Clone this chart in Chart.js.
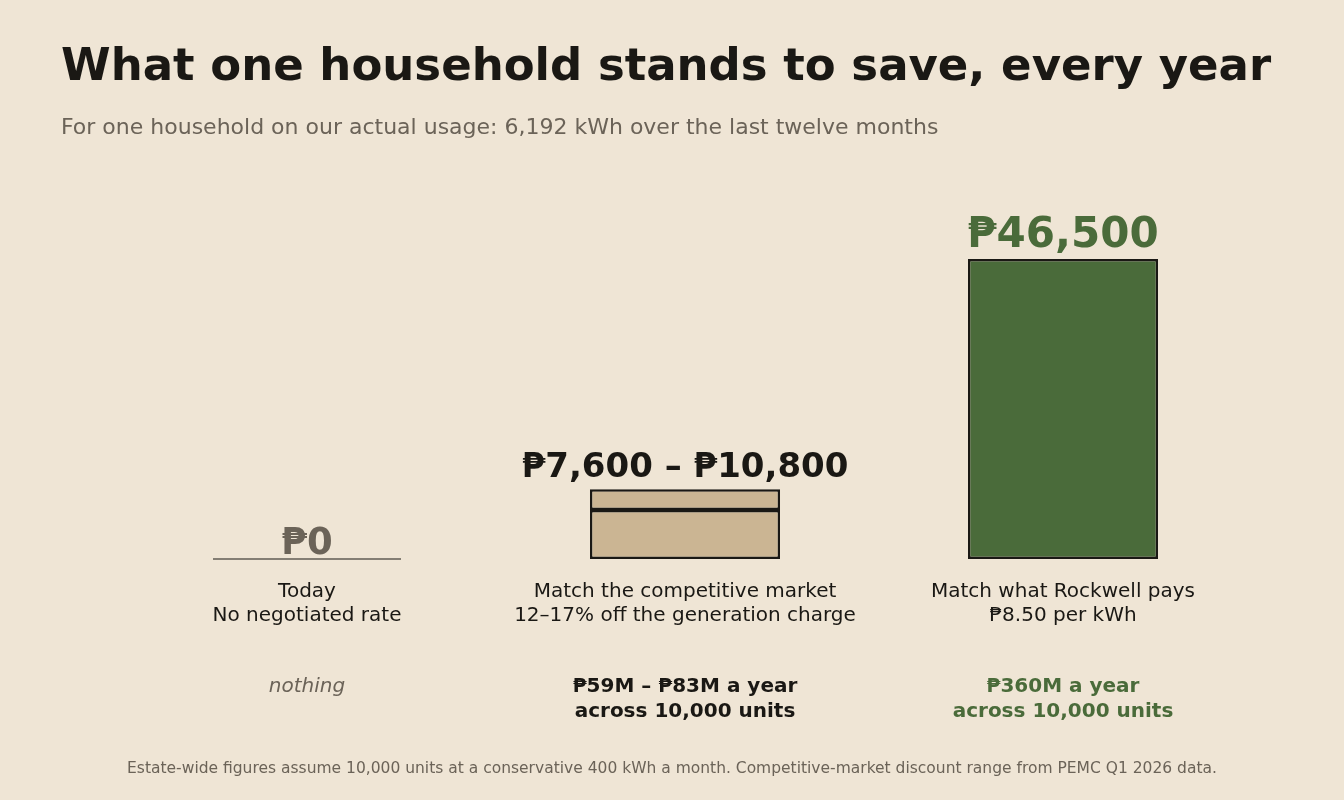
<!DOCTYPE html>
<html>
<head>
<meta charset="utf-8">
<script src="https://cdn.jsdelivr.net/npm/chart.js@4"></script>
<style>
  html, body { margin: 0; padding: 0; background: #efe5d5; }
  #wrap { width: 1344px; height: 800px; }
</style>
</head>
<body>
<div id="wrap"><canvas id="savingsChart" width="1344" height="800"></canvas></div>
<script>
// chart data
const categories = ['Today', 'Match the competitive market', 'Match what Rockwell pays'];
const subLabels = ['No negotiated rate', '12\u201317% off the generation charge', '\u20b18.50 per kWh'];
const lowValues = [0, 7600, 46500];
const rangeExtra = [0, 3200, 0];
const valueLabels = ['\u20b10', '\u20b17,600 \u2013 \u20b110,800', '\u20b146,500'];
const estateLines = [['nothing'], ['\u20b159M \u2013 \u20b183M a year', 'across 10,000 units'], ['\u20b1360M a year', 'across 10,000 units']];

const INK = '#1a1814';
const GREY = '#6b6358';
const TAN = '#cbb593';
const GREEN = '#4a6b3a';
const FONT = '"DejaVu Sans", sans-serif';

const textPlugin = {
    id: 'texts',
    afterDatasetsDraw(chart) {
        const ctx = chart.ctx;
        const x = chart.scales.x;
        const y = chart.scales.y;
        const base = y.getPixelForValue(0);
        ctx.save();

        // title and subtitle
        ctx.textAlign = 'left';
        ctx.textBaseline = 'alphabetic';
        ctx.fillStyle = INK;
        ctx.font = 'bold 45px ' + FONT;
        ctx.fillText('What one household stands to save, every year', 61, 80);
        ctx.fillStyle = GREY;
        ctx.font = '22px ' + FONT;
        ctx.fillText('For one household on our actual usage: 6,192 kWh over the last twelve months', 61, 134);

        // zero line for the first category
        const x0 = x.getPixelForValue(0);
        ctx.strokeStyle = INK;
        ctx.lineWidth = 1.2;
        ctx.beginPath();
        ctx.moveTo(x0 - 94, base);
        ctx.lineTo(x0 + 94, base);
        ctx.stroke();

        ctx.textAlign = 'center';
        categories.forEach((c, i) => {
            const cx = x.getPixelForValue(i);
            const top = y.getPixelForValue(lowValues[i] + rangeExtra[i]);
            // value label
            if (i === 0) { ctx.fillStyle = GREY; ctx.font = 'bold 37px ' + FONT; }
            else if (i === 1) { ctx.fillStyle = INK; ctx.font = 'bold 34px ' + FONT; }
            else { ctx.fillStyle = GREEN; ctx.font = 'bold 42px ' + FONT; }
            ctx.textBaseline = 'alphabetic';
            ctx.fillText(valueLabels[i], cx, top - (i === 0 ? 5 : 12));

            // category labels
            ctx.textBaseline = 'middle';
            ctx.fillStyle = INK;
            ctx.font = '20px ' + FONT;
            ctx.fillText(c, cx, 592);
            ctx.fillText(subLabels[i], cx, 616);

            // estate-wide figures
            estateLines[i].forEach((line, j) => {
                if (i === 0) { ctx.fillStyle = GREY; ctx.font = 'italic 20px ' + FONT; }
                else { ctx.fillStyle = i === 1 ? INK : GREEN; ctx.font = 'bold 20px ' + FONT; }
                ctx.fillText(line, cx, 687 + j * 25);
            });
        });

        ctx.fillStyle = GREY;
        ctx.font = '15.5px ' + FONT;
        ctx.fillText('Estate-wide figures assume 10,000 units at a conservative 400 kWh a month. Competitive-market discount range from PEMC Q1 2026 data.', 672, 769);
        ctx.restore();
    }
};

const ctx = document.getElementById('savingsChart').getContext('2d');
new Chart(ctx, {
    type: 'bar',
    data: {
        labels: categories,
        datasets: [
            {
                data: lowValues,
                backgroundColor: [TAN, TAN, GREEN],
                borderColor: INK,
                borderWidth: [0, 2.5, 2.5],
                borderSkipped: false,
                stack: 's'
            },
            {
                data: rangeExtra,
                backgroundColor: TAN,
                borderColor: INK,
                borderWidth: [0, 2.5, 0],
                borderSkipped: false,
                stack: 's'
            }
        ]
    },
    options: {
        responsive: false,
        animation: false,
        layout: { padding: { top: 170, bottom: 241, left: 118, right: 92 } },
        categoryPercentage: 1,
        barPercentage: 0.503,
        plugins: { legend: { display: false }, tooltip: { enabled: false } },
        scales: {
            x: { display: false, stacked: true },
            y: { display: false, stacked: true, min: 0, max: 60300 }
        }
    },
    plugins: [textPlugin]
});
</script>
</body>
</html>
